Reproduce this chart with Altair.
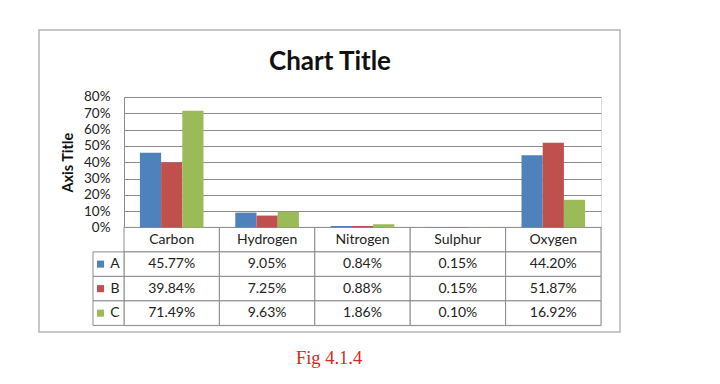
import altair as alt
import pandas as pd

categories = ["Carbon", "Hydrogen", "Nitrogen", "Sulphur", "Oxygen"]
series = ["A", "B", "C"]
values_A = [0.4577, 0.0905, 0.0084, 0.0015, 0.4420]
values_B = [0.3984, 0.0725, 0.0088, 0.0015, 0.5187]
values_C = [0.7149, 0.0963, 0.0186, 0.0010, 0.1692]
colors = ["#4F81BD", "#C0504D", "#9BBB59"]
y_ticks = [0, 0.1, 0.2, 0.3, 0.4, 0.5, 0.6, 0.7, 0.8]
chart_title = "Chart Title"
axis_title = "Axis Title"
caption = "Fig 4.1.4"

W = 477
PH = 130.4
TH = 228.4
row_order = ["hdr"] + series

bar_rows = []
cell_rows = []
for c in categories:
    cell_rows.append({"category": c, "row": "hdr", "label": c})
for s, vals in zip(series, [values_A, values_B, values_C]):
    for c, v in zip(categories, vals):
        bar_rows.append({"category": c, "series": s, "value": v})
        cell_rows.append({"category": c, "row": s, "label": f"{v * 100:.2f}%"})
bars_df = pd.DataFrame(bar_rows)
cells_df = pd.DataFrame(cell_rows)
legend_df = pd.DataFrame({"row": series, "series": series})
one = pd.DataFrame({"k": [0]})

x_scale = alt.Scale(domain=categories, paddingInner=0, paddingOuter=0)
color_scale = alt.Scale(domain=series, range=colors)
row_scale = alt.Scale(domain=row_order, range=[PH, TH], paddingInner=0, paddingOuter=0)

border = alt.Chart(one).mark_rect(fill="white", fillOpacity=0, stroke="#B5B5B5", strokeWidth=1.5).encode(
    x=alt.value(-85), x2=alt.value(496), y=alt.value(-67), y2=alt.value(235)
)

cells = alt.Chart(cells_df).mark_rect(fill="white", stroke="#8C8C8C", strokeWidth=1).encode(
    x=alt.X("category:N", scale=x_scale, axis=None),
    y=alt.Y("row:N", scale=row_scale, axis=None),
)
cell_text = alt.Chart(cells_df).mark_text(fontSize=14, color="#222222", font="Lato").encode(
    x=alt.X("category:N", scale=x_scale, axis=None),
    y=alt.Y("row:N", scale=row_scale, axis=None),
    text="label:N",
)
legend_cells = alt.Chart(legend_df).mark_rect(fill="white", stroke="#8C8C8C", strokeWidth=1).encode(
    x=alt.value(-31), x2=alt.value(0),
    y=alt.Y("row:N", scale=row_scale, axis=None),
)
legend_sw = alt.Chart(legend_df).mark_square(size=50, opacity=1).encode(
    x=alt.value(-23.5),
    y=alt.Y("row:N", scale=row_scale, axis=None),
    color=alt.Color("series:N", scale=color_scale, legend=None),
)
legend_txt = alt.Chart(legend_df).mark_text(fontSize=14, color="#222222", font="Lato").encode(
    x=alt.value(-9),
    y=alt.Y("row:N", scale=row_scale, axis=None),
    text="series:N",
)

bars = alt.Chart(bars_df).mark_bar().encode(
    x=alt.X("category:N", scale=x_scale, axis=None),
    xOffset=alt.XOffset("series:N", scale=alt.Scale(domain=series, paddingInner=0, paddingOuter=0.75)),
    y=alt.Y(
        "value:Q",
        scale=alt.Scale(domain=[0, 0.8], range=[PH, 0], nice=False),
        axis=alt.Axis(
            values=y_ticks, format=".0%", grid=True, gridColor="#8A8A8A", gridWidth=1,
            ticks=False, domainColor="#8A8A8A", labelFontSize=13.5, labelColor="#222222",
            labelFont="Lato", labelPadding=14, title=axis_title, titleFont="Lato",
            titleFontSize=14.5, titleFontWeight="bold", titleColor="#111111",
            titleX=-56, titleY=PH / 2, titleAngle=-90, titleAlign="center", titleBaseline="middle",
        ),
    ),
    color=alt.Color("series:N", scale=color_scale, legend=None),
)

title_txt = alt.Chart(one).mark_text(
    text=chart_title, fontSize=26, fontWeight="bold", font="Lato", color="#111111",
    align="center", baseline="middle",
).encode(x=alt.value(206), y=alt.value(-35))

cap_txt = alt.Chart(one).mark_text(
    text=caption, fontSize=18.5, font="Liberation Serif", color="#D8281E",
    align="center", baseline="middle",
).encode(x=alt.value(205), y=alt.value(261))

chart = alt.layer(
    border, cells, legend_cells, cell_text, legend_sw, legend_txt, bars, title_txt, cap_txt
).resolve_scale(y="independent").properties(
    width=W, height=TH,
    autosize=alt.AutoSizeParams(type="none"),
    padding={"left": 116, "top": 89, "right": 111, "bottom": 45},
).configure_view(stroke=None).configure(font="Lato")

chart.save("out.html", embed_options={"renderer": "svg", "actions": False})
